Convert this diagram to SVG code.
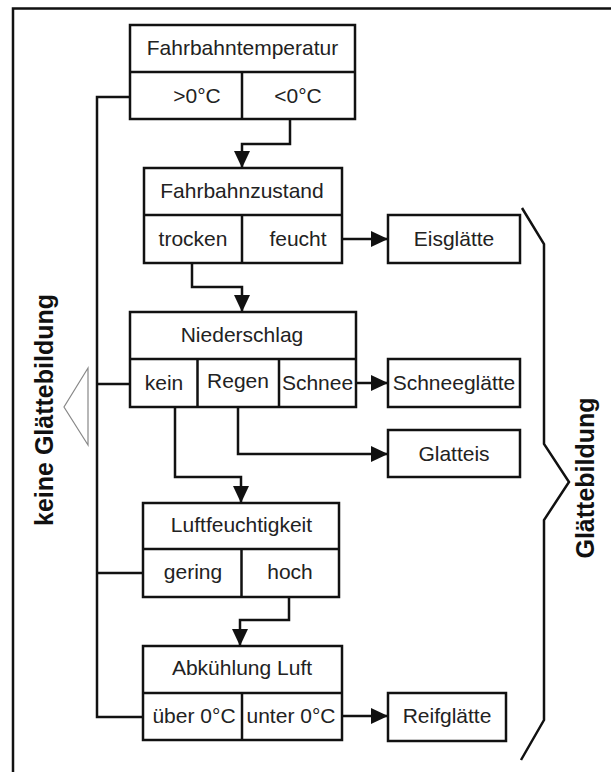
<svg xmlns="http://www.w3.org/2000/svg" width="611" height="772" viewBox="0 0 611 772">
<defs>
<style>
.box{fill:#fff;stroke:#111;stroke-width:2.5}
.ln{fill:none;stroke:#111;stroke-width:2.5}
.con{fill:none;stroke:#111;stroke-width:2.5}
.t{font-family:"Liberation Sans",Arial,sans-serif;font-size:21px;fill:#222;text-anchor:middle}
.b{font-family:"Liberation Sans",Arial,sans-serif;font-size:25px;font-weight:bold;fill:#111;text-anchor:middle}
</style>
<marker id="ah" markerUnits="userSpaceOnUse" markerWidth="17" markerHeight="17" refX="17" refY="8" orient="auto" viewBox="0 0 17 16">
<path d="M0,0 L17,8 L0,16 z" fill="#111"/>
</marker>
</defs>
<rect width="611" height="772" fill="#fff"/>
<g id="frame">
<path class="ln" d="M13,772 V8.5 H611"/>
</g>
<g id="connectors">
<path class="con" d="M130,97 H97 V717 H143 M97,384 H130 M97,573 H143"/>
<path class="con" d="M290,119 V144 H242 V168" marker-end="url(#ah)"/>
<path class="con" d="M192,263 V287 H242 V312" marker-end="url(#ah)"/>
<path class="con" d="M342,239 H388" marker-end="url(#ah)"/>
<path class="con" d="M356,383 H388" marker-end="url(#ah)"/>
<path class="con" d="M238,407 V454 H388" marker-end="url(#ah)"/>
<path class="con" d="M175,407 V477 H241 V503" marker-end="url(#ah)"/>
<path class="con" d="M289,597 V620 H240 V646" marker-end="url(#ah)"/>
<path class="con" d="M342,716 H388" marker-end="url(#ah)"/>
</g>
<g id="fahrbahntemperatur">
<rect class="box" x="130" y="25" width="225" height="94"/>
<path class="ln" d="M130,72 H355 M242,72 V119"/>
<text class="t" x="242.5" y="55">Fahrbahntemperatur</text>
<text class="t" x="197" y="103">&gt;0°C</text>
<text class="t" x="298" y="103">&lt;0°C</text>
</g>
<g id="fahrbahnzustand">
<rect class="box" x="144" y="168" width="198" height="95"/>
<path class="ln" d="M144,215 H342 M242,215 V263"/>
<text class="t" x="242" y="198">Fahrbahnzustand</text>
<text class="t" x="193" y="246">trocken</text>
<text class="t" x="298" y="246">feucht</text>
</g>
<g id="eisglaette">
<rect class="box" x="388" y="215" width="132" height="48"/>
<text class="t" x="454" y="246">Eisglätte</text>
</g>
<g id="niederschlag">
<rect class="box" x="130" y="312" width="226" height="95"/>
<path class="ln" d="M130,359 H356 M197.5,359 V407 M279,359 V407"/>
<text class="t" x="242" y="342">Niederschlag</text>
<text class="t" x="164" y="390">kein</text>
<text class="t" x="238" y="388">Regen</text>
<text class="t" x="317.5" y="390">Schnee</text>
</g>
<g id="schneeglaette">
<rect class="box" x="388" y="359" width="132" height="48"/>
<text class="t" x="454" y="390">Schneeglätte</text>
</g>
<g id="glatteis">
<rect class="box" x="388" y="430" width="132" height="47"/>
<text class="t" x="454" y="461">Glatteis</text>
</g>
<g id="luftfeuchtigkeit">
<rect class="box" x="143" y="503" width="196" height="94"/>
<path class="ln" d="M143,549 H339 M241.5,549 V597"/>
<text class="t" x="241.5" y="532">Luftfeuchtigkeit</text>
<text class="t" x="193" y="579">gering</text>
<text class="t" x="290" y="579">hoch</text>
</g>
<g id="abkuehlung">
<rect class="box" x="143" y="646" width="199" height="94"/>
<path class="ln" d="M143,693 H342 M242,693 V740"/>
<text class="t" x="242" y="675">Abkühlung Luft</text>
<text class="t" x="194" y="723">über 0°C</text>
<text class="t" x="291" y="723">unter 0°C</text>
</g>
<g id="reifglaette">
<rect class="box" x="388" y="693" width="118" height="48"/>
<text class="t" x="447" y="723">Reifglätte</text>
</g>
<g id="keine-glaettebildung">
<polygon points="88,368 64,407 88,445" fill="none" stroke="#888" stroke-width="1.2"/>
<text class="b" transform="translate(53,410) rotate(-90)">keine Glättebildung</text>
</g>
<g id="glaettebildung">
<path class="ln" d="M522,208 L544,244 V444 L569,482 L544,520 V720 L521,760"/>
<text class="b" transform="translate(594,478) rotate(-90)">Glättebildung</text>
</g>
</svg>
